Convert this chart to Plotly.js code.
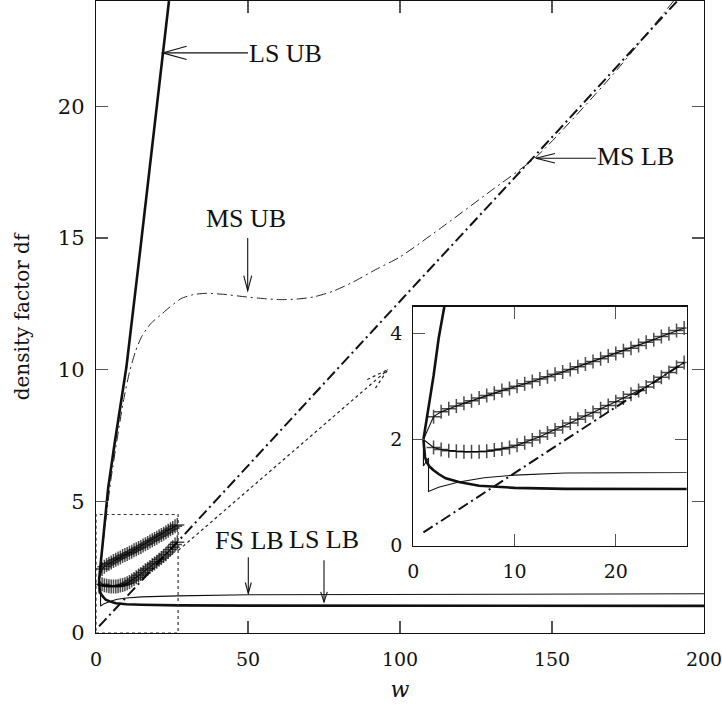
<!DOCTYPE html>
<html><head><meta charset="utf-8">
<script src="https://cdn.plot.ly/plotly-3.0.1.min.js"></script>
<style>body{margin:0;background:#fff}#c{width:722px;height:716px}</style>
</head><body><div id="c"></div>
<script>
// ---- data ----
const lsUB_w  = [1, 1.5, 2, 2.5, 3, 3.4, 4, 6, 8, 10, 14, 18, 22, 24];
const lsUB_df = [2, 2.6, 3.2, 3.9, 4.5, 5.0, 5.5, 7.1, 8.6, 10.1, 14.0, 18.0, 22.0, 24.0];

const msUB_w  = [1, 2, 3, 5, 7, 9, 11, 13, 15, 18, 21, 24, 28, 32, 36.4, 42, 49.6, 55, 60.5, 66, 71.5, 78, 84.6, 92, 100, 113.2, 130, 145, 170, 190];
const msUB_df = [2, 3.1, 4.1, 5.9, 7.4, 8.8, 9.9, 10.7, 11.25, 11.75, 12.05, 12.35, 12.7, 12.85, 12.9, 12.86, 12.76, 12.7, 12.66, 12.68, 12.76, 12.98, 13.33, 13.8, 14.28, 15.36, 16.8, 18.1, 21.2, 24.0];

const msLB_w  = [1, 27, 100, 145, 192];
const msLB_df = [0.25, 3.48, 12.6, 18.2, 24.1];

const lsLB_w  = [1, 1.05, 1.15, 1.3, 1.6, 2, 2.5, 3.2, 4.5, 6.5, 10, 15, 20, 27, 50, 100, 200];
const lsLB_df = [2, 1.8, 1.68, 1.58, 1.49, 1.42, 1.35, 1.27, 1.2, 1.13, 1.09, 1.07, 1.06, 1.05, 1.04, 1.03, 1.03];

const fsLB_w  = [1, 1, 1.5, 1.5, 2.5, 4.5, 7, 10, 15, 20, 27, 50, 100, 200];
const fsLB_df = [2, 1.5, 1.65, 1.02, 1.1, 1.2, 1.28, 1.33, 1.37, 1.39, 1.41, 1.45, 1.47, 1.49];

const plus_w = [1, 2, 2.75, 3.5, 4.25, 5, 5.75, 6.5, 7.25, 8, 8.75, 9.5, 10.25, 11, 11.75, 12.5, 13.25, 14, 14.75, 15.5, 16.25, 17, 17.75, 18.5, 19.25, 20, 20.75, 21.5, 22.25, 23, 23.75, 24.5, 25.25, 26, 26.75];
const plusUpper_df = [2, 2.43, 2.52, 2.58, 2.63, 2.68, 2.73, 2.78, 2.83, 2.87, 2.92, 2.96, 3.00, 3.05, 3.09, 3.14, 3.18, 3.23, 3.27, 3.32, 3.37, 3.42, 3.47, 3.52, 3.57, 3.62, 3.67, 3.72, 3.77, 3.83, 3.88, 3.94, 3.99, 4.05, 4.10];
const plusLower_df = [2, 1.85, 1.81, 1.79, 1.78, 1.77, 1.77, 1.77, 1.78, 1.80, 1.82, 1.85, 1.89, 1.94, 1.99, 2.05, 2.12, 2.18, 2.24, 2.31, 2.38, 2.44, 2.51, 2.58, 2.64, 2.71, 2.78, 2.85, 2.92, 2.99, 3.08, 3.17, 3.26, 3.36, 3.45];

const dotted_w  = [27.1, 96];
const dotted_df = [3.14, 10.0];

const xTicks = [0, 50, 100, 150, 200];
const yTicks = [0, 5, 10, 15, 20];
const xTicksInset = [0, 10, 20];
const yTicksInset = [0, 2, 4];

// labels: text, anchor point (data)
const labels = [
  {t:'LS UB', x:49.7, y:22.0, xa:'left'},
  {t:'MS UB', x:49.3, y:15.75, xa:'center'},
  {t:'MS LB', x:164.3, y:18.1, xa:'left'},
  {t:'FS LB', x:38.5, y:3.5, xa:'left'},
  {t:'LS LB', x:62.8, y:3.55, xa:'left'}
];
const arrows = [ // tail(x,y) -> tip(x,y), head length px, half width px
  {x0:50.0, y0:22.03, x1:21.9, y1:22.03, L:24, H:6.7},
  {x0:49.9, y0:15.0, x1:49.9, y1:13.0, L:15, H:4},
  {x0:164.5, y0:18.03, x1:144.7, y1:18.03, L:19, H:4.7},
  {x0:50.1, y0:2.88, x1:50.1, y1:1.5, L:11, H:3},
  {x0:75.0, y0:2.76, x1:75.0, y1:1.18, L:10, H:3.3}
];

// ---- layout geometry ----
const W = 722, Hh = 716, ML = 96, MR = 18, MT = 1, MB = 83;
const PW = W - ML - MR, PH = Hh - MT - MB;
const XR = [0, 200], YR = [0, 24];
const SX = PW / (XR[1]-XR[0]), SY = PH / (YR[1]-YR[0]);

function vhead(a){
  const dxp = (a.x1-a.x0)*SX, dyp = (a.y1-a.y0)*SY;
  const n = Math.hypot(dxp,dyp), ux = dxp/n, uy = dyp/n;
  const bx = a.x1 - ux*a.L/SX, by = a.y1 - uy*a.L/SY;
  const p1x = bx + (-uy)*a.H/SX, p1y = by + ux*a.H/SY;
  const p2x = bx - (-uy)*a.H/SX, p2y = by - ux*a.H/SY;
  return `M${p1x},${p1y} L${a.x1},${a.y1} L${p2x},${p2y}`;
}

const serif = 'DejaVu Serif, serif';
const lblFont = {family:'Liberation Serif, Times New Roman, serif', size:26, color:'#111'};

const traces = [];
function addBoth(tr, inset){
  traces.push(Object.assign({xaxis:'x', yaxis:'y'}, tr));
  if (inset) traces.push(Object.assign({xaxis:'x2', yaxis:'y2'}, tr));
}
const base = {type:'scatter', mode:'lines', hoverinfo:'skip', showlegend:false};
addBoth(Object.assign({}, base, {x:msUB_w, y:msUB_df, line:{color:'#222', width:1, dash:'10px,4px,2px,4px', shape:'spline', smoothing:0.6}}), false);
addBoth(Object.assign({}, base, {x:msLB_w, y:msLB_df, line:{color:'#111', width:2, dash:'11px,4px,2px,4px'}}), true);
addBoth(Object.assign({}, base, {x:dotted_w, y:dotted_df, line:{color:'#222', width:1.2, dash:'dot'}}), false);
addBoth(Object.assign({}, base, {x:fsLB_w, y:fsLB_df, line:{color:'#111', width:1.1}}), true);
addBoth(Object.assign({}, base, {x:lsLB_w, y:lsLB_df, line:{color:'#111', width:2.6}}), true);
addBoth(Object.assign({}, base, {x:lsUB_w, y:lsUB_df, line:{color:'#111', width:2.6}}), true);
const msz = plus_w.map((w,i)=> i===0 ? 0 : 10);
const mk = {symbol:'cross-thin', size:msz, line:{width:1.5, color:'#000'}};
addBoth(Object.assign({}, base, {mode:'lines+markers', x:plus_w, y:plusUpper_df, line:{color:'#111', width:1.1}, marker:mk}), true);
addBoth(Object.assign({}, base, {mode:'lines+markers', x:plus_w, y:plusLower_df, line:{color:'#111', width:1.1}, marker:mk}), true);

const shapes = [
  {type:'rect', xref:'x', yref:'y', x0:0, x1:27, y0:0, y1:4.5, line:{color:'#333', width:1.2, dash:'dot'}}
];
arrows.forEach(a=>{
  shapes.push({type:'line', xref:'x', yref:'y', x0:a.x0, y0:a.y0, x1:a.x1, y1:a.y1, line:{color:'#111', width:1.1}});
  shapes.push({type:'path', xref:'x', yref:'y', path:vhead(a), line:{color:'#111', width:1.1}});
});
// dotted arrow head
shapes.push({type:'path', xref:'x', yref:'y', path:vhead({x0:dotted_w[0], y0:dotted_df[0], x1:dotted_w[1], y1:dotted_df[1], L:22, H:6}), line:{color:'#222', width:1.2, dash:'dot'}});

const annotations = labels.map(l=>({xref:'x', yref:'y', x:l.x, y:l.y, text:l.t, showarrow:false, xanchor:l.xa, yanchor:'middle', font:lblFont}));

const axBase = {showgrid:false, zeroline:false, showline:true, linecolor:'#111', linewidth:1.2,
  ticks:'inside', ticklen:12, tickwidth:1.2, tickcolor:'#555', mirror:'ticks', tickmode:'array', ticklabeloverflow:'allow'};

const layout = {
  width:W, height:Hh, margin:{l:ML, r:MR, t:MT, b:MB},
  paper_bgcolor:'#fff', plot_bgcolor:'#fff', showlegend:false,
  xaxis:Object.assign({}, axBase, {range:XR, tickvals:xTicks, ticktext:xTicks.map(String), domain:[0,1], anchor:'y',
    tickfont:{family:serif, size:19, color:'#111'}, ticklabelstandoff:9,
    title:{text:'<i>w</i>', font:{family:serif, size:22, color:'#111'}, standoff:12}}),
  yaxis:Object.assign({}, axBase, {range:YR, tickvals:yTicks, ticktext:yTicks.map(String), domain:[0,1], anchor:'x',
    tickfont:{family:serif, size:21, color:'#111'}, ticklabelstandoff:6,
    title:{text:'density factor df', font:{family:serif, size:20, color:'#111'}, standoff:22}}),
  xaxis2:Object.assign({}, axBase, {range:[0,27], tickvals:xTicksInset, ticktext:xTicksInset.map(String), domain:[0.5219,0.9715], anchor:'y2',
    tickfont:{family:serif, size:19, color:'#111'}, ticklabelstandoff:8}),
  yaxis2:Object.assign({}, axBase, {range:[0,4.5], tickvals:yTicksInset, ticktext:yTicksInset.map(String), domain:[0.1381,0.5163], anchor:'x2',
    tickfont:{family:serif, size:19, color:'#111'}, ticklabelstandoff:6}),
  shapes:shapes, annotations:annotations
};
Plotly.newPlot('c', traces, layout, {staticPlot:true});
</script></body></html>
